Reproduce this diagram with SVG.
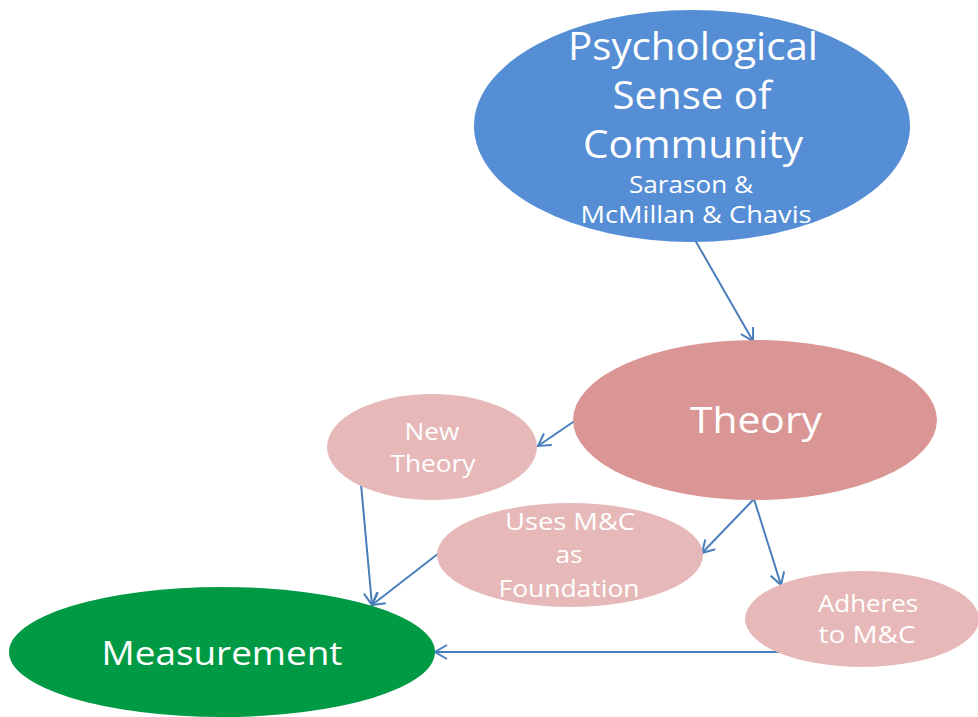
<svg xmlns="http://www.w3.org/2000/svg" width="978" height="717" viewBox="0 0 978 717">
<style>
text{font-family:"Open Sans","Liberation Sans",sans-serif;fill:#fff;text-anchor:middle}
.c{stroke:#4A7EBB;stroke-width:2;fill:none}
.sm{font-size:23px}
</style>
<defs>
<marker id="a" markerWidth="16" markerHeight="16" refX="13" refY="8" orient="auto" markerUnits="userSpaceOnUse">
<polyline points="1,1 13,8 1,15" fill="none" stroke="#4A7EBB" stroke-width="2"/>
</marker>
</defs>
<rect width="978" height="717" fill="#fff"/>
<g id="connectors">
<line class="c" x1="695" y1="240" x2="753" y2="341" marker-end="url(#a)"/>
<line class="c" x1="576" y1="420" x2="538" y2="446" marker-end="url(#a)"/>
<line class="c" x1="754" y1="499" x2="702" y2="553" marker-end="url(#a)"/>
<line class="c" x1="754" y1="499" x2="781" y2="585" marker-end="url(#a)"/>
<line class="c" x1="361" y1="484" x2="372" y2="605" marker-end="url(#a)"/>
<line class="c" x1="439" y1="553" x2="372" y2="605" marker-end="url(#a)"/>
<line class="c" x1="783" y1="652" x2="435" y2="652" marker-end="url(#a)"/>
</g>
<g id="psc">
<ellipse cx="692" cy="126" rx="218" ry="116" fill="#558ED5"/>
<text x="693" y="60" font-size="38" textLength="250" lengthAdjust="spacingAndGlyphs">Psychological</text>
<text x="692" y="109" font-size="38" textLength="159" lengthAdjust="spacingAndGlyphs">Sense of</text>
<text x="693" y="158" font-size="38" textLength="220" lengthAdjust="spacingAndGlyphs">Community</text>
<text x="691" y="193" font-size="23" textLength="124" lengthAdjust="spacingAndGlyphs">Sarason &amp;</text>
<text x="696" y="223" font-size="23" textLength="231" lengthAdjust="spacingAndGlyphs">McMillan &amp; Chavis</text>
</g>
<g id="theory">
<ellipse cx="755" cy="420" rx="182" ry="80" fill="#D99694"/>
<text x="756" y="433" font-size="36" textLength="132" lengthAdjust="spacingAndGlyphs">Theory</text>
</g>
<g id="newtheory">
<ellipse cx="432" cy="447" rx="105" ry="53" fill="#E6B9B8"/>
<text class="sm" x="432" y="440" textLength="55" lengthAdjust="spacingAndGlyphs">New</text>
<text class="sm" x="433" y="472" textLength="85" lengthAdjust="spacingAndGlyphs">Theory</text>
</g>
<g id="uses">
<ellipse cx="570" cy="555" rx="133" ry="52" fill="#E6B9B8"/>
<text class="sm" x="570" y="530" textLength="130" lengthAdjust="spacingAndGlyphs">Uses M&amp;C</text>
<text class="sm" x="569" y="563" textLength="27" lengthAdjust="spacingAndGlyphs">as</text>
<text class="sm" x="569" y="597" textLength="141" lengthAdjust="spacingAndGlyphs">Foundation</text>
</g>
<g id="adheres">
<ellipse cx="862" cy="619" rx="117" ry="48" fill="#E6B9B8"/>
<text class="sm" x="868" y="612" textLength="100" lengthAdjust="spacingAndGlyphs">Adheres</text>
<text class="sm" x="867" y="643" textLength="97" lengthAdjust="spacingAndGlyphs">to M&amp;C</text>
</g>
<g id="measurement">
<ellipse cx="222" cy="652" rx="213" ry="65" fill="#009A44"/>
<text x="222" y="665" font-size="33" textLength="241" lengthAdjust="spacingAndGlyphs">Measurement</text>
</g>
</svg>
